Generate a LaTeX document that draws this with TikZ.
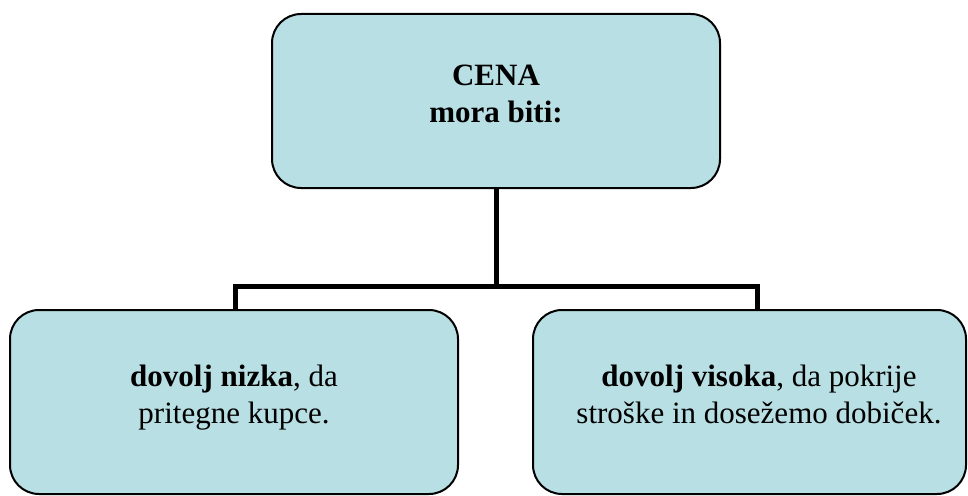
\documentclass[tikz,border=0pt]{standalone}
\usepackage{fontspec}
\setmainfont{Liberation Serif}
\usetikzlibrary{backgrounds}
\definecolor{boxfill}{HTML}{B8DFE3}
\tikzset{
  box/.style={draw=black, line width=2pt, fill=boxfill, rounded corners=29pt,
    inner sep=0pt},
  label/.style={align=center, anchor=base, inner sep=0pt,
    font=\fontsize{31}{37}\selectfont},
  conn/.style={draw=black, line width=5pt, line join=miter, line cap=butt}
}
\begin{document}
\begin{tikzpicture}[x=1pt, y=-1pt]
  \useasboundingbox (0,0) rectangle (968,495);

  % boxes
  \node[box, minimum width=448pt, minimum height=174pt] (top) at (496,101) {};
  \node[box, minimum width=448pt, minimum height=184pt] (left) at (234,402) {};
  \node[box, minimum width=433pt, minimum height=184pt] (right) at (749.5,402) {};

  % junction points of the tree connector
  \coordinate (split) at (496,286);
  \coordinate (ldrop) at (235,310);
  \coordinate (rdrop) at (757,310);

  % connector, kept behind the boxes
  \begin{scope}[on background layer]
    \draw[conn] (top.south) -- (split);
    \draw[conn] (ldrop) |- (split) -| (rdrop);
  \end{scope}

  % texts (anchored at the baseline of their last line)
  \node[label] (toptext) at (496,122) {\textbf{CENA}\\\textbf{mora biti:}};
  \node[label] (lefttext) at (234,423) {\textbf{dovolj nizka}, da\\pritegne kupce.};
  \node[label] (righttext) at (759,423) {\textbf{dovolj visoka}, da pokrije\\stroške in dosežemo dobiček.};
\end{tikzpicture}
\end{document}
